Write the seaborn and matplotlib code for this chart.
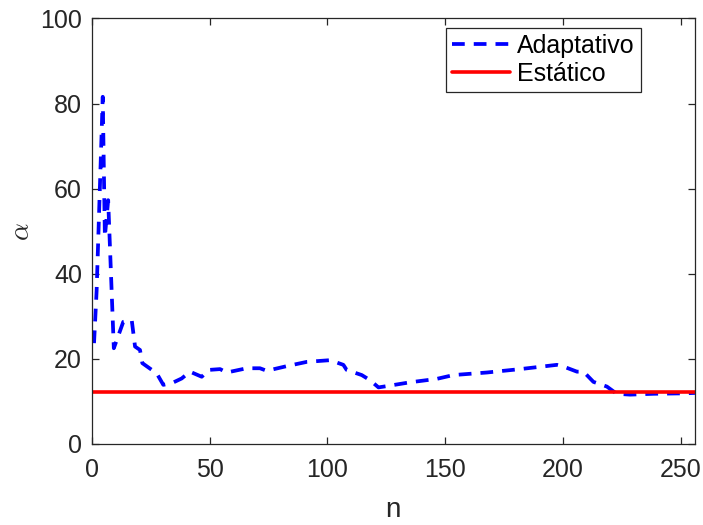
import matplotlib
matplotlib.use("Agg")
import matplotlib.pyplot as plt
import seaborn as sns
import pandas as pd

# ---- data ----
n_adapt = [1, 2.1, 4.7, 5.6, 7.0, 9.4, 13.4, 17.0, 18.4, 20.5, 21.5, 27.6, 30.4,
           34.0, 38.2, 41.7, 46.7, 49.5, 54.5, 57.3, 65.8, 71.4, 74.3, 82.8,
           91.3, 101.2, 106.8, 108.2, 114.6, 118.1, 121.7, 125.2, 135.1, 146.4,
           153.5, 167.7, 181.8, 197.4, 200.2, 205.9, 208.7, 212.9, 218.6, 222.8,
           228.5, 238.4, 251.1, 256]
alpha_adapt = [23.7, 36.0, 81.6, 48.7, 57.3, 22.5, 28.7, 29.1, 22.9, 22.1, 19.0, 16.6, 13.9,
               14.3, 15.4, 17.0, 15.8, 17.4, 17.6, 16.8, 17.8, 17.8, 17.2, 18.3,
               19.3, 19.7, 18.6, 17.4, 16.2, 15.0, 13.3, 13.6, 14.5, 15.3,
               16.2, 16.8, 17.6, 18.6, 18.2, 17.0, 17.0, 14.6, 13.5, 11.8,
               11.6, 11.8, 11.9, 12.0]
n_static = [0, 256]
alpha_static = [12.3, 12.3]
labels = ["Adaptativo", "Estático"]
xticks = [0, 50, 100, 150, 200, 250]
yticks = [0, 20, 40, 60, 80, 100]

df_a = pd.DataFrame({"n": n_adapt, "alpha": alpha_adapt})
df_s = pd.DataFrame({"n": n_static, "alpha": alpha_static})

sns.set_theme(style="white")
plt.rcParams["font.family"] = ["Liberation Sans", "DejaVu Sans"]
plt.rcParams["mathtext.fontset"] = "cm"

fig = plt.figure(figsize=(7.03, 5.25), dpi=100)
ax = fig.add_axes([0.1304, 0.1543, 0.8582, 0.8105])

sns.lineplot(data=df_a, x="n", y="alpha", ax=ax, color="#0000ff", linewidth=2.7,
             label=labels[0], sort=False, estimator=None)
ax.lines[-1].set_dashes((3.4, 2.4))
sns.lineplot(data=df_s, x="n", y="alpha", ax=ax, color="#ff0000", linewidth=2.6,
             label=labels[1], sort=False, estimator=None)

ax.set_xlim(0, 256)
ax.set_ylim(0, 100)
ax.set_xticks(xticks)
ax.set_yticks(yticks)

dark = "#262626"
for s in ax.spines.values():
    s.set_visible(True)
    s.set_color(dark)
    s.set_linewidth(0.9)
ax.tick_params(direction="in", length=5, width=0.9, colors=dark,
               labelsize=18, top=True, right=True, bottom=True, left=True,
               labelcolor=dark)
ax.tick_params(axis="x", pad=10)
ax.tick_params(axis="y", pad=7)

ax.set_xlabel("n", fontsize=20, color=dark)
ax.set_ylabel(r"$\alpha$", fontsize=20, color=dark)
ax.xaxis.set_label_coords(0.5, -0.125)
ax.yaxis.set_label_coords(-0.093, 0.5)

leg = ax.legend(loc="upper right", bbox_to_anchor=(0.9105, 0.9777), fontsize=18,
                frameon=True, fancybox=False, shadow=False, framealpha=1,
                handlelength=2.3, handletextpad=0.3, borderpad=0.25,
                labelspacing=0.15, borderaxespad=0.0)
leg.get_frame().set_edgecolor(dark)
leg.get_frame().set_linewidth(0.9)
for t in leg.get_texts():
    t.set_color("black")

fig.savefig("out.png", dpi=100)
